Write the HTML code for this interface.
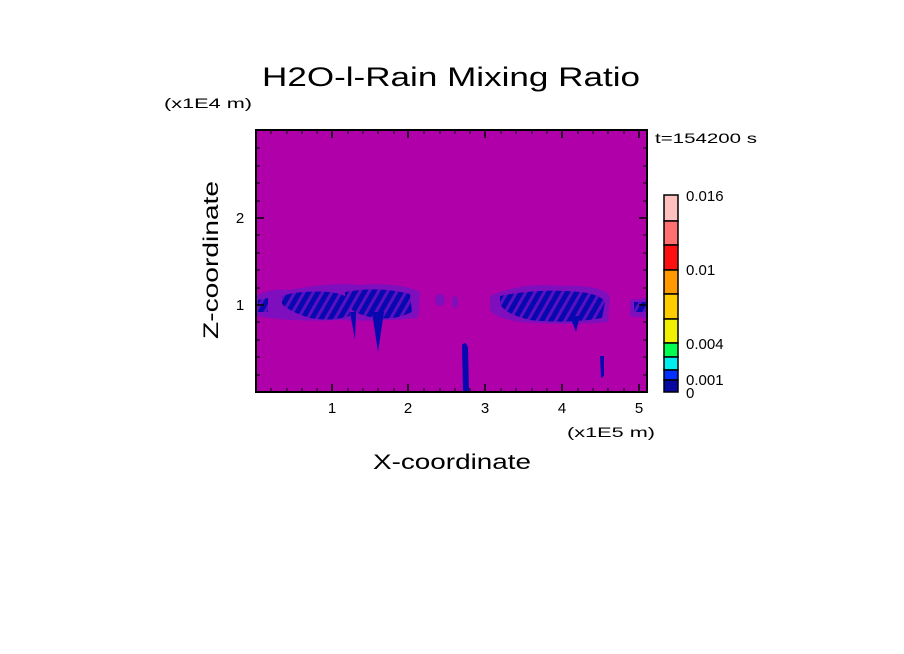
<!DOCTYPE html>
<html><head><style>body{margin:0;background:#fff}svg{display:block}text{font-family:"Liberation Sans",sans-serif}</style></head><body>
<svg width="904" height="654" xmlns="http://www.w3.org/2000/svg">
<defs>
<pattern id="st" width="8" height="8" patternUnits="userSpaceOnUse" patternTransform="rotate(30)">
<rect width="8" height="8" fill="#0808b0"/><rect width="3" height="8" fill="#5a10c0"/>
</pattern>
</defs>
<text x="262" y="86" font-size="27" textLength="378" lengthAdjust="spacingAndGlyphs">H2O-l-Rain Mixing Ratio</text>
<text x="164" y="108" font-size="14" textLength="88" lengthAdjust="spacingAndGlyphs">(x1E4 m)</text>
<text x="655" y="143" font-size="14" textLength="102" lengthAdjust="spacingAndGlyphs">t=154200 s</text>
<rect x="256" y="130" width="391" height="262" fill="#b000aa"/>
<g fill="#7a10c0" opacity="0.9">
<path d="M256 296 Q270 288 290 290 Q330 282 360 285 Q400 282 420 292 L418 318 Q380 322 340 320 Q300 322 270 318 L256 316Z"/>
<path d="M490 296 Q520 282 560 286 Q600 284 610 296 L608 322 Q570 326 520 322 Q495 318 490 310Z"/>
<path d="M630 300 L647 298 L647 318 L630 316Z"/>
<ellipse cx="440" cy="300" rx="5" ry="6"/><ellipse cx="455" cy="302" rx="3" ry="6"/>
</g>
<g fill="url(#st)">
<path d="M258 300 L268 298 L268 312 L258 312Z"/>
<path d="M282 296 Q300 290 330 292 Q345 294 350 300 L350 316 Q330 322 310 318 Q290 312 282 304Z"/>
<path d="M345 292 Q380 286 410 294 L412 312 Q395 320 380 318 Q370 318 360 314 Q348 310 345 300Z"/>
<path d="M500 296 Q540 288 580 292 Q600 294 605 302 L602 318 Q570 324 530 320 Q505 314 500 304Z"/>
<path d="M634 302 L647 302 L647 312 L634 312Z"/>
</g>
<g fill="#0808b0">
<path d="M350 312 L356 312 L355 340 Z"/>
<path d="M372 312 L384 312 L378 352 Z"/>
<path d="M570 316 L580 316 L576 332 Z"/>
<path d="M462 345 Q466 340 468 348 L469 392 L463 392 Z"/>
<path d="M600 356 L604 356 L604 376 L601 378 Z"/>
</g>
<rect x="256" y="130" width="391" height="262" fill="none" stroke="#000" stroke-width="2"/>
<g stroke="#000" stroke-width="1.5">
<path d="M332 392v-8M408 392v-8M485 392v-8M562 392v-8M639 392v-8M332 130v8M408 130v8M485 130v8M562 130v8M639 130v8"/>
<path d="M256 305h8M256 218h8M647 305h-8M647 218h-8"/>
</g>
<g stroke="#000" stroke-width="1">
<path d="M271 392v-4M287 392v-4M302 392v-4M317 392v-4M348 392v-4M363 392v-4M378 392v-4M394 392v-4M424 392v-4M440 392v-4M455 392v-4M470 392v-4M501 392v-4M516 392v-4M532 392v-4M547 392v-4M578 392v-4M593 392v-4M608 392v-4M624 392v-4"/>
<path d="M271 130v4M287 130v4M302 130v4M317 130v4M348 130v4M363 130v4M378 130v4M394 130v4M424 130v4M440 130v4M455 130v4M470 130v4M501 130v4M516 130v4M532 130v4M547 130v4M578 130v4M593 130v4M608 130v4M624 130v4"/>
<path d="M256 375h4M256 357h4M256 340h4M256 322h4M256 288h4M256 270h4M256 253h4M256 235h4M256 201h4M256 183h4M256 166h4M256 148h4"/>
<path d="M647 375h-4M647 357h-4M647 340h-4M647 322h-4M647 288h-4M647 270h-4M647 253h-4M647 235h-4M647 201h-4M647 183h-4M647 166h-4M647 148h-4"/>
</g>
<g font-size="15" text-anchor="middle">
<text x="332" y="413">1</text><text x="408" y="413">2</text><text x="485" y="413">3</text><text x="562" y="413">4</text><text x="639" y="413">5</text>
<text x="240" y="310">1</text><text x="240" y="223">2</text>
</g>
<text x="567" y="437" font-size="14" textLength="88" lengthAdjust="spacingAndGlyphs">(x1E5 m)</text>
<text x="373" y="469" font-size="21" textLength="158" lengthAdjust="spacingAndGlyphs">X-coordinate</text>
<text transform="translate(218,339) rotate(-90)" font-size="21" textLength="158" lengthAdjust="spacingAndGlyphs">Z-coordinate</text>
<g stroke="#000" stroke-width="1.5">
<rect x="664" y="195" width="14" height="26" fill="#ffc0c0"/>
<rect x="664" y="221" width="14" height="24" fill="#ff7070"/>
<rect x="664" y="245" width="14" height="25" fill="#ff1010"/>
<rect x="664" y="270" width="14" height="24" fill="#ff9900"/>
<rect x="664" y="294" width="14" height="25" fill="#ffcc00"/>
<rect x="664" y="319" width="14" height="24" fill="#f0f000"/>
<rect x="664" y="343" width="14" height="14" fill="#00ff50"/>
<rect x="664" y="357" width="14" height="13" fill="#00eeee"/>
<rect x="664" y="370" width="14" height="10" fill="#0030ff"/>
<rect x="664" y="380" width="14" height="12" fill="#0808a0"/>
</g>
<g font-size="15">
<text x="686" y="201">0.016</text><text x="686" y="275">0.01</text><text x="686" y="349">0.004</text><text x="686" y="385">0.001</text><text x="686" y="398">0</text>
</g>
</svg>
</body></html>
